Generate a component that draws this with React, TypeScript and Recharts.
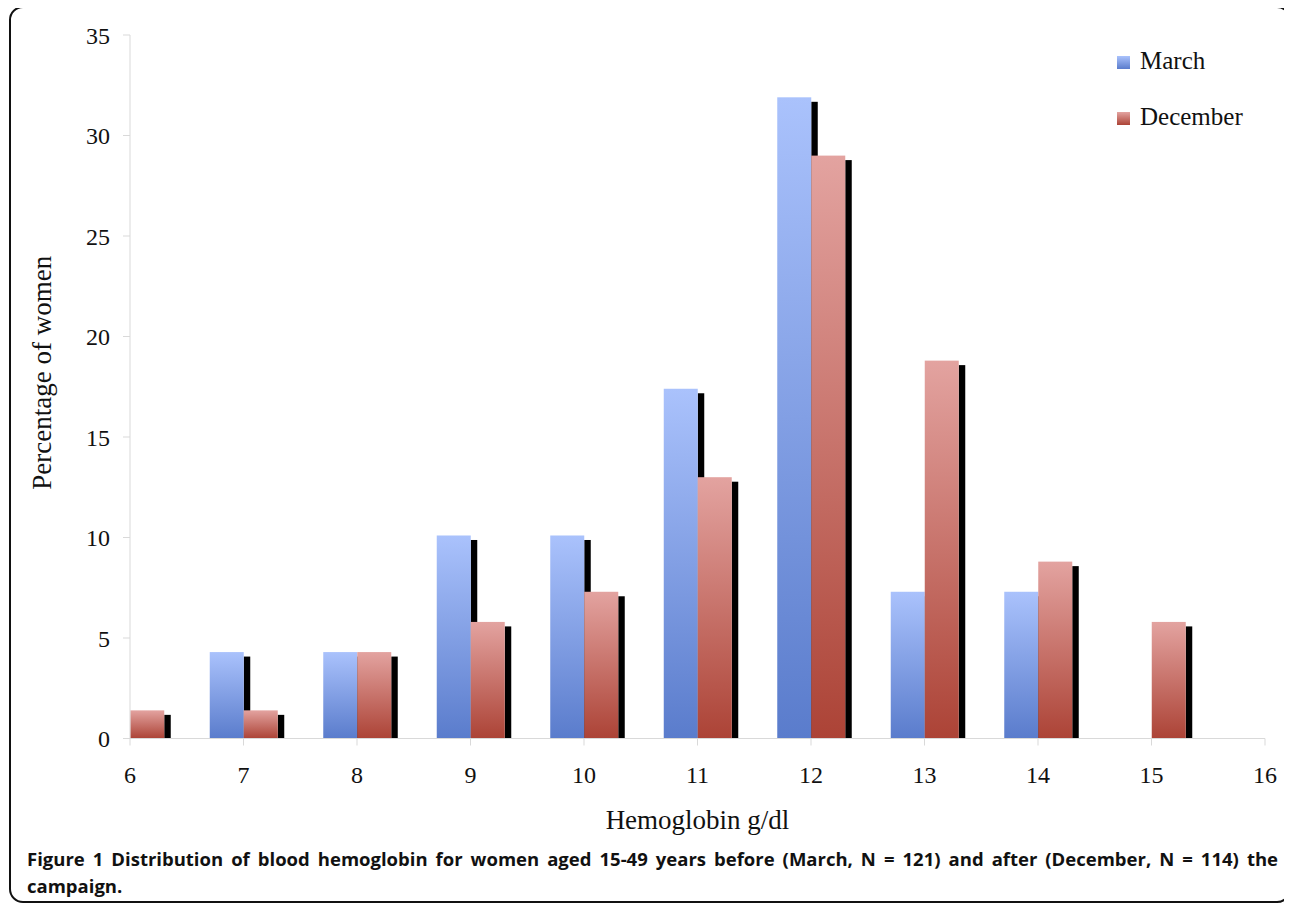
import { BarChart, Bar, XAxis, YAxis, Legend, Label } from 'recharts';

// hemoglobin classes (g/dl)
const hbLevels = [6, 7, 8, 9, 10, 11, 12, 13, 14, 15];
const marchPct = [0, 4.3, 4.3, 10.1, 10.1, 17.4, 31.9, 7.3, 7.3, 0];
const decemberPct = [1.4, 1.4, 4.3, 5.8, 7.3, 13.0, 29.0, 18.8, 8.8, 5.8];
const xTicks = [6, 7, 8, 9, 10, 11, 12, 13, 14, 15, 16];
const yTicks = [0, 5, 10, 15, 20, 25, 30, 35];

const data = hbLevels.map((hb, i) => ({ hb, march: marchPct[i], december: decemberPct[i] }));

const serif = '"Liberation Serif", "Times New Roman", serif';
const axisGrey = '#d9d9d9';

const ShadowBar = (props: any) => {
  const { x, y, width, height, fill } = props;
  if (!height || height <= 0) return null;
  const off = 4.5;
  return (
    <g>
      {height > off && <rect x={x + width} y={y + off} width={6.5} height={height - off} fill="#000" />}
      <rect x={x} y={y} width={width} height={height} fill={fill} />
    </g>
  );
};

const renderLegend = (props: any) => {
  const items = [
    { name: 'March', fill: 'url(#gradMarch)' },
    { name: 'December', fill: 'url(#gradDec)' },
  ];
  return (
    <div style={{ fontFamily: serif, fontSize: 25, color: '#111', textAlign: 'left' }}>
      {items.map((it) => (
        <div key={it.name} style={{ height: 28, lineHeight: '28px', marginBottom: 28, whiteSpace: 'nowrap' }}>
          <svg width={13} height={13} style={{ verticalAlign: 'baseline', marginRight: 10 }}>
            <rect x={0} y={0} width={13} height={13} fill={it.fill} />
          </svg>
          {it.name}
        </div>
      ))}
    </div>
  );
};

const YTitle = (props: any) => {
  const { viewBox } = props;
  const x = viewBox.x + 40;
  const y = viewBox.y + viewBox.height / 2 - 14;
  return (
    <text x={x} y={y} transform={`rotate(-90, ${x}, ${y})`} textAnchor="middle"
      fontFamily={serif} fontSize={27} fill="#111">
      Percentage of women
    </text>
  );
};

export default function App() {
  return (
    <div style={{
      position: 'relative', width: 1282, height: 897, marginTop: -2, marginLeft: 1,
      border: '2px solid #111', borderRadius: 14, boxSizing: 'border-box', background: '#fff',
    }}>
      <svg width={0} height={0} style={{ position: 'absolute' }}>
        <defs>
          <linearGradient id="gradMarch" x1="0" y1="0" x2="0" y2="1">
            <stop offset="0%" stopColor="#aac2fc" />
            <stop offset="100%" stopColor="#5a7ccc" />
          </linearGradient>
          <linearGradient id="gradDec" x1="0" y1="0" x2="0" y2="1">
            <stop offset="0%" stopColor="#e3a3a0" />
            <stop offset="100%" stopColor="#ac4336" />
          </linearGradient>
        </defs>
      </svg>
      <div style={{ position: 'absolute', left: 0, top: 0 }}>
        <BarChart width={1270} height={830} data={data} barGap={0}
          margin={{ top: 27, right: 16, left: 0, bottom: 9.5 }}>
          <XAxis dataKey="hb" type="number" domain={[6, 16]} ticks={xTicks} interval={0}
            height={90} tickSize={7} tickMargin={20}
            stroke={axisGrey} tickLine={{ stroke: axisGrey }}
            tick={{ fontFamily: serif, fontSize: 24, fill: '#111' }}>
            <Label value="Hemoglobin g/dl" position="insideBottom" offset={0}
              style={{ fontFamily: serif, fontSize: 27, fill: '#111' }} />
          </XAxis>
          <YAxis domain={[0, 35]} ticks={yTicks} width={119} tickSize={7} tickMargin={13}
            stroke={axisGrey} tickLine={{ stroke: axisGrey }}
            tick={{ fontFamily: serif, fontSize: 24, fill: '#111' }}>
            <Label content={<YTitle />} />
          </YAxis>
          <Legend content={renderLegend} layout="horizontal" verticalAlign="middle" align="center"
            wrapperStyle={{ left: 1106, top: 38.6, width: 160 }} />
          <Bar dataKey="march" name="March" barSize={34} fill="url(#gradMarch)"
            shape={(p: any) => <ShadowBar {...p} />} isAnimationActive={false} />
          <Bar dataKey="december" name="December" barSize={34} fill="url(#gradDec)"
            shape={(p: any) => <ShadowBar {...p} />} isAnimationActive={false} />
        </BarChart>
      </div>
      <div style={{
        position: 'absolute', left: 16, top: 837, width: 1251,
        fontFamily: '"Open Sans", sans-serif', fontWeight: 700, fontSize: 18.5, lineHeight: '27px', color: '#111',
      }}>
        <div style={{ textAlign: 'justify', textAlignLast: 'justify', whiteSpace: 'nowrap' as any }}>
          Figure 1 Distribution of blood hemoglobin for women aged 15-49 years before (March, N = 121) and after (December, N = 114) the
        </div>
        <div>campaign.</div>
      </div>
    </div>
  );
}
